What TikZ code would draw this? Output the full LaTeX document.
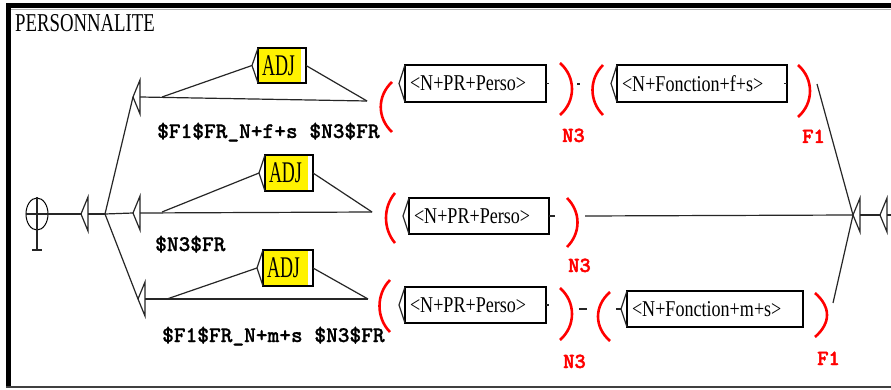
\documentclass[tikz,border=0pt]{standalone}
\usepackage{fontspec}
\usepackage{tikz}
\usetikzlibrary{positioning}
\usetikzlibrary{shapes.geometric}
\newfontfamily\boxfont[FakeStretch=0.8]{Liberation Serif}
\newfontfamily\titlefont[FakeStretch=0.73]{Liberation Serif}
\newfontfamily\adjfont[FakeStretch=0.6]{Liberation Serif}
\newfontface\outfont[FakeBold=1]{lmmonolt10-bold.otf}
\newfontface\varfont[FakeBold=2]{lmmonolt10-bold.otf}

\tikzset{
    ubox/.style={draw, line width=1.4pt, outer sep=0pt, inner xsep=5pt, inner ysep=0pt,
        align=left, anchor=north west, font=\boxfont\fontsize{22.6}{24}\selectfont},
    adjbox/.style={ubox, fill=yellow, inner xsep=4pt, font=\adjfont\fontsize{30}{30}\selectfont},
    outlbl/.style={anchor=base west, inner sep=0pt, font=\outfont\fontsize{22.3}{24}\selectfont},
    varlbl/.style={outlbl, text=red, font=\varfont\fontsize{21.5}{22}\selectfont},
    link/.style={line width=1.2pt, black!85},
    paren/.style={red, line width=2.6pt},
    startst/.style={draw, ellipse, line width=1pt, minimum width=22pt, minimum height=32pt, inner sep=0pt},
}
\newcommand{\emptybox}[2]{%
    \coordinate (#1) at (#2);
    \draw[link] (#1) -- ++(7,-17) -- ++(0,34) -- cycle;
    \path (#1) ++(7,0) coordinate (#1o);}

\begin{document}
\begin{tikzpicture}[x=1pt, y=-1pt]
    \useasboundingbox (0,0) rectangle (891,390);
    \clip (0,0) rectangle (891,390);
    \fill[white] (0,0) rectangle (891,390);
    \fill (6,3) rectangle (895,8);
    \fill (6,3) rectangle (11,388);
    \draw[black!30, line width=1pt] (11,9.5) -- (895,9.5);
    \draw[black!75, line width=2pt] (6,387) -- (895,387);

    \node[anchor=base west, inner sep=0pt, font=\titlefont\fontsize{25.7}{26}\selectfont] (ttl) at (15,32) {PERSONNALITE};

    \node[startst] (s) at (37,214) {};
    \coordinate (s1) at (37,250);
    \draw[link] (s.north) -- (s1);
    \draw[link] ([xshift=-5pt]s1) -- ([xshift=5pt]s1);

    \emptybox{t0}{81,214}
    \emptybox{t1}{133,97}
    \emptybox{t2}{133,213}
    \emptybox{t3}{138,299}
    \emptybox{e1}{853,215}
    \emptybox{e2}{880,215}
    \coordinate (b) at (105,214);

    \node[adjbox, text width=40pt, minimum height=35pt] (a1) at (258,48) {ADJ};
    \node[adjbox, text width=40pt, minimum height=36pt] (a2) at (265,155) {ADJ};
    \node[adjbox, text width=42pt, minimum height=36pt] (a3) at (263,250) {ADJ};
    \fill[white] ([xshift=-5pt, yshift=-0.7pt]a1.north east) rectangle ([xshift=-0.7pt, yshift=0.7pt]a1.south east);
    \fill[white] ([xshift=-5pt, yshift=-0.7pt]a2.north east) rectangle ([xshift=-0.7pt, yshift=0.7pt]a2.south east);
    \fill[white] ([xshift=-5pt, yshift=-0.7pt]a3.north east) rectangle ([xshift=-0.7pt, yshift=0.7pt]a3.south east);

    \node[ubox, text width=131pt, minimum height=37pt] (p1) at (405,65) {<N+PR+Perso>};
    \node[ubox, text width=160pt, minimum height=37pt] (f1) at (617,65) {<N+Fonction+f+s>};
    \node[ubox, text width=130pt, minimum height=36pt] (p2) at (409,198) {<N+PR+Perso>};
    \node[ubox, text width=131pt, minimum height=36pt] (p3) at (405,287) {<N+PR+Perso>};
    \node[ubox, text width=166pt, minimum height=36pt] (f2) at (627,291) {<N+Fonction+m+s>};

    \draw[link] (a1.north west) -- ([xshift=-6pt]a1.west) -- (a1.south west);
    \draw[link] (a2.north west) -- ([xshift=-6pt]a2.west) -- (a2.south west);
    \draw[link] (a3.north west) -- ([xshift=-6pt]a3.west) -- (a3.south west);
    \draw[link] (p1.north west) -- ([xshift=-6pt]p1.west) -- (p1.south west);
    \draw[link] (f1.north west) -- ([xshift=-6pt]f1.west) -- (f1.south west);
    \draw[link] (p2.north west) -- ([xshift=-6pt]p2.west) -- (p2.south west);
    \draw[link] (p3.north west) -- ([xshift=-6pt]p3.west) -- (p3.south west);
    \draw[link] (f2.north west) -- ([xshift=-6pt]f2.west) -- (f2.south west);
    \draw[link] (p1.east) -- ++(3,0);
    \draw[link] (f1.east) -- ++(-3,0);
    \draw[link] (p2.east) -- ++(6,0);
    \draw[link] (p3.east) -- ++(3,0);
    \draw[link] ([xshift=-6pt]f2.west) -- ++(-5,0);

    \node[outlbl] (o1) at (157,138) {\$F1\$FR\_N+f+s \$N3\$FR};
    \node[outlbl] (o2) at (155,251) {\$N3\$FR};
    \node[outlbl] (o3) at (162,342) {\$F1\$FR\_N+m+s \$N3\$FR};

    \node[varlbl] (v1) at (562,142) {N3};
    \node[varlbl] (v2) at (802,143) {F1};
    \node[varlbl] (v3) at (568,272) {N3};
    \node[varlbl] (v4) at (563,368) {N3};
    \node[varlbl] (v5) at (817,365) {F1};

    \draw[paren] (392,82) .. controls +(-15,14) and +(-15,-14) .. (392,132);
    \draw[paren] (560,63) .. controls +(16,14) and +(16,-14) .. (560,115);
    \draw[paren] (603,65) .. controls +(-14,14) and +(-14,-14) .. (603,115);
    \draw[paren] (798,65) .. controls +(16,14) and +(16,-14) .. (798,117);
    \draw[paren] (395,193) .. controls +(-12,14) and +(-12,-14) .. (395,243);
    \draw[paren] (567,198) .. controls +(14,14) and +(14,-14) .. (567,247);
    \draw[paren] (390,280) .. controls +(-14,14) and +(-14,-14) .. (390,332);
    \draw[paren] (560,288) .. controls +(16,14) and +(16,-14) .. (560,340);
    \draw[paren] (610,292) .. controls +(-16,14) and +(-16,-14) .. (610,341);
    \draw[paren] (815,293) .. controls +(16,14) and +(16,-14) .. (815,337);

    \draw[link] (577,84) -- (580,84);
    \draw[link] (579,309) -- (587,309);

    \coordinate (j1) at (162,97);
    \coordinate (j2) at (162,212);
    \coordinate (j3) at (167,299);
    \coordinate (q1) at (367,101);
    \coordinate (q2) at (372,212);
    \coordinate (q3) at (368,299);
    \coordinate (r1) at (817,84);
    \coordinate (r2) at (585,216);
    \coordinate (r3) at (833,303);
    \coordinate (fin) at (895,215);

    \draw[link] (s.west) -- (t0);
    \draw[link] (t0o) -- (b);
    \draw[link] (b) -- (t1);
    \draw[link] (b) -- (t2);
    \draw[link] (b) -- (t3);
    \draw[link] (t1o) -- (q1);
    \draw[link] (t2o) -- (q2);
    \draw[link] (t3o) -- (q3);
    \draw[link] (j1) -- ([xshift=-6pt]a1.west);
    \draw[link] (a1.east) -- (q1);
    \draw[link] (j2) -- ([xshift=-6pt]a2.west);
    \draw[link] (a2.east) -- (q2);
    \draw[link] (j3) -- ([xshift=-6pt]a3.west);
    \draw[link] (a3.east) -- (q3);
    \draw[link] (r1) -- (e1);
    \draw[link] (r2) -- (e1);
    \draw[link] (r3) -- (e1);
    \draw[link] (e1o) -- (e2);
    \draw[link] (e2o) -- (fin);
\end{tikzpicture}
\end{document}
